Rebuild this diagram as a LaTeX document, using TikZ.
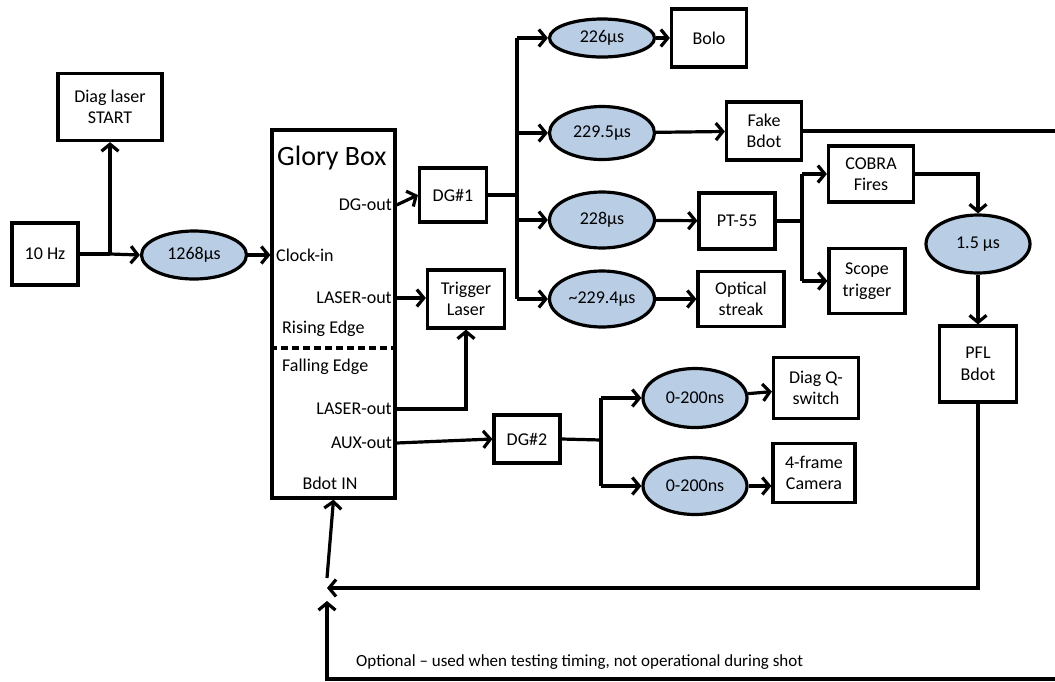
\documentclass[tikz,border=0pt]{standalone}
\usepackage{fontspec}
\setmainfont{Carlito}
\usetikzlibrary{arrows.meta,calc,shapes.geometric}
\definecolor{DelayBlue}{HTML}{B9CDE5}
\definecolor{Ink}{HTML}{000000}
\tikzset{unitbox/.style={rectangle,draw=Ink,line width=3.2pt,fill=white,align=center,inner sep=0pt,text=Ink},delay/.style={ellipse,draw=Ink,line width=3.2pt,fill=DelayBlue,align=center,inner sep=0pt,minimum width=105pt,text=Ink},wire/.style={draw=Ink,line width=3.2pt},sig/.style={wire,-{Straight Barb[length=7pt,width=17pt]}},port/.style={inner sep=0pt,text=Ink}}

\begin{document}
\begin{tikzpicture}[x=1pt,y=-1pt,font=\fontsize{18}{21.5}\selectfont]
\useasboundingbox (0,0) rectangle (1055,681);
% clock source
\node[unitbox,minimum width=66pt,minimum height=62pt] (hz) at (45,254) {10 Hz};
\node[unitbox,minimum width=104pt,minimum height=67pt] (diag) at (110,107) {Diag laser\\START};
\node[delay,minimum height=48pt] (d1268) at (194,255) {1268µs};
\coordinate (split) at (110,254);
% glory box and its ports
\node[unitbox,minimum width=123pt,minimum height=368pt] (glory) at (333.5,314) {};
\node[port,anchor=west,font=\fontsize{28}{31}\selectfont] (title) at (277,158) {Glory Box};
\node[port,anchor=east] (dgout) at (392,205) {DG-out};
\node[port,anchor=west] (clockin) at (276,255) {Clock-in};
\node[port,anchor=east] (laserA) at (392,298) {LASER-out};
\node[port,anchor=west] (rising) at (282,329) {Rising Edge};
\node[port,anchor=west] (falling) at (282,367) {Falling Edge};
\node[port,anchor=east] (laserB) at (392,409) {LASER-out};
\node[port,anchor=east] (auxout) at (392,443) {AUX-out};
\node[port] (bdotin) at (330,483) {Bdot IN};
\draw[wire,dashed,dash pattern=on 7pt off 4pt] (glory.west |- 0,348) -- (glory.east |- 0,348);
% delay generators
\node[unitbox,minimum width=67pt,minimum height=54pt] (dg1) at (453,195) {DG\#1};
\node[unitbox,minimum width=77pt,minimum height=58pt] (trig) at (466,299) {Trigger\\Laser};
\node[unitbox,minimum width=66pt,minimum height=48pt] (dg2) at (527,439) {DG\#2};
% DG#1 outputs
\coordinate (t1) at (517,195);
\node[delay,minimum height=38pt] (e226) at (602,38) {226µs};
\node[delay,minimum height=53pt] (e2295) at (602,133) {229.5µs};
\node[delay,minimum height=56pt] (e228) at (602,220) {228µs};
\node[delay,minimum height=56pt] (e2294) at (602,299) {\textasciitilde229.4µs};
\node[unitbox,minimum width=75pt,minimum height=58pt] (bolo) at (709,38) {Bolo};
\node[unitbox,minimum width=75pt,minimum height=58pt] (fake) at (764,131) {Fake\\Bdot};
\node[unitbox,minimum width=76pt,minimum height=56pt] (pt55) at (737,221) {PT-55};
\node[unitbox,minimum width=86pt,minimum height=55pt] (optic) at (741,299) {Optical\\streak};
\coordinate (edgeR) at (1055,131);
% PT-55 outputs
\coordinate (t2) at (802,221);
\node[unitbox,minimum width=85pt,minimum height=56pt] (cobra) at (871,174) {COBRA\\Fires};
\node[unitbox,minimum width=76pt,minimum height=65pt] (scope) at (867,281) {Scope\\trigger};
\node[delay,minimum width=104pt,minimum height=58pt] (e15) at (978,244) {1.5 µs};
\node[unitbox,minimum width=77pt,minimum height=76pt] (pfl) at (978,364) {PFL\\Bdot};
% DG#2 outputs
\coordinate (t3) at (601,440);
\node[delay,minimum width=104pt,minimum height=59pt] (e200a) at (695,398) {0-200ns};
\node[delay,minimum width=104pt,minimum height=57pt] (e200b) at (695,486) {0-200ns};
\node[unitbox,minimum width=85pt,minimum height=61pt] (diagq) at (816,388) {Diag Q-\\switch};
\node[unitbox,minimum width=82pt,minimum height=59pt] (cam) at (814,473) {4-frame\\Camera};
% feedback
\coordinate (fbA) at (327,588);
\coordinate (fbB) at (327,601);
\coordinate (fbC) at (327,578);
\coordinate (edgeB) at (1055,679);
\node[port,anchor=west,font=\fontsize{17}{20}\selectfont] (note) at (356,662) {Optional -- used when testing timing, not operational during shot};
% connectors
\draw[wire] (hz.east) -- (split);
\draw[sig] (split) -- (diag.south);
\draw[sig] (split) -- (d1268.west);
\draw[sig] (d1268.east) -- (glory.west |- d1268);
\draw[sig] (glory.east |- dgout) -- (dg1.west);
\draw[sig] (glory.east |- laserA) -- (trig.west |- laserA);
\draw[sig] (glory.east |- laserB) -| (trig.south);
\draw[sig] (glory.east |- auxout) -- (dg2.west);
\draw[wire] (dg1.east) -- (t1);
\draw[wire] (t1 |- e226) -- (t1 |- e2294);
\foreach \e in {e226,e2295,e228,e2294}
  \draw[sig] (t1 |- \e) -- (\e.west);
\draw[sig] (e226) -- (bolo);
\draw[sig] (e2295) -- (fake);
\draw[sig] (e228) -- (pt55);
\draw[sig] (e2294) -- (optic);
\draw[wire] (fake.east) -- (edgeR);
\draw[wire] (pt55.east) -- (t2);
\draw[wire] (t2 |- cobra) -- (t2 |- scope);
\draw[sig] (t2 |- cobra) -- (cobra.west);
\draw[sig] (t2 |- scope) -- (scope.west);
\draw[sig] (cobra.east) -| (e15.north);
\draw[sig] (e15) -- (pfl);
\draw[wire] (dg2.east) -- (t3);
\draw[wire] (t3 |- e200a) -- (t3 |- e200b);
\draw[sig] (t3 |- e200a) -- (e200a.west);
\draw[sig] (t3 |- e200b) -- (e200b.west);
\draw[sig] (e200a) -- (diagq);
\draw[sig] (e200b) -- (cam.west |- e200b);
\draw[sig] (pfl.south) |- (fbA);
\draw[sig] (edgeB) -| (fbB);
\draw[sig] (fbC) -- (glory.south);
\end{tikzpicture}
\end{document}
